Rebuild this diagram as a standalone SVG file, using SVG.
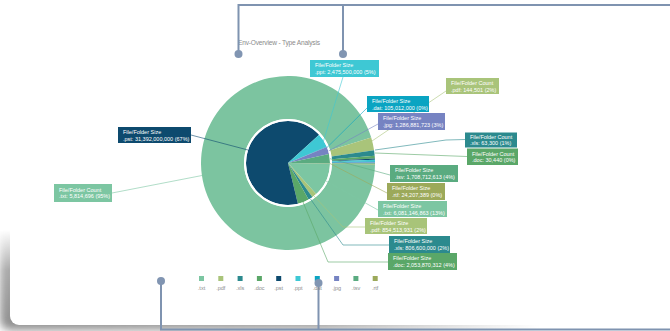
<svg xmlns="http://www.w3.org/2000/svg" width="670" height="331" viewBox="0 0 670 331">
<style>
.lb{font-family:"Liberation Sans",Arial,sans-serif;font-size:5.5px;fill:#ffffff}
.lg{font-family:"Liberation Sans",Arial,sans-serif;font-size:5.5px;fill:#8c8c8c;text-anchor:middle}
.ttl{font-family:"Liberation Sans",Arial,sans-serif;font-size:6.6px;fill:#8a8a8a}
.ld{fill:none;stroke-width:0.6}
.co{fill:none;stroke:#7f93b0;stroke-width:2}
.dot{fill:#8195b2}
</style>
<defs>
<filter id="blur" x="-10%" y="-10%" width="120%" height="120%"><feGaussianBlur stdDeviation="4.5"/></filter>
<radialGradient id="shg" cx="0" cy="1" r="1">
<stop offset="0" stop-color="#fff" stop-opacity="1"/>
<stop offset="0.6" stop-color="#fff" stop-opacity="0.75"/>
<stop offset="1" stop-color="#fff" stop-opacity="0"/>
</radialGradient>
<mask id="shm"><rect x="0" y="230" width="540" height="101" fill="url(#shg)"/></mask>
</defs>
<rect x="0" y="0" width="670" height="331" fill="#ffffff"/>
<g id="card">
<g mask="url(#shm)"><rect x="0" y="60" width="720" height="270" rx="10" fill="#8c8c8c" filter="url(#blur)"/></g>
<rect x="10" y="-20" width="720" height="345" rx="9" fill="#ffffff"/>
</g>
<text class="ttl" x="238" y="45" textLength="82">Env-Overview - Type Analysis</text>

<g id="outer-ring">
<path d="M374.99,164.52 A87,87 0 1 1 371.20,137.56 L330.08,150.13 A44,44 0 1 0 331.99,163.77 Z" fill="#7cc4a0"/>
<path d="M371.20,137.56 A87,87 0 0 1 374.04,150.14 L331.52,156.50 A44,44 0 0 0 330.08,150.13 Z" fill="#a9c47a"/>
<path d="M374.04,150.14 A87,87 0 0 1 374.69,155.72 L331.85,159.32 A44,44 0 0 0 331.52,156.50 Z" fill="#2c8a8e"/>
<path d="M374.69,155.72 A87,87 0 0 1 374.88,158.45 L331.94,160.70 A44,44 0 0 0 331.85,159.32 Z" fill="#5aa768"/>
<path d="M374.88,158.45 A87,87 0 0 1 374.94,159.66 L331.97,161.31 A44,44 0 0 0 331.94,160.70 Z" fill="#0d4a6e"/>
<path d="M374.94,159.66 A87,87 0 0 1 374.98,161.18 L331.99,162.08 A44,44 0 0 0 331.97,161.31 Z" fill="#3ec8d4"/>
<path d="M374.98,161.18 A87,87 0 0 1 375.00,162.39 L332.00,162.69 A44,44 0 0 0 331.99,162.08 Z" fill="#0aa4c2"/>
<path d="M375.00,162.39 A87,87 0 0 1 375.00,163.15 L332.00,163.08 A44,44 0 0 0 332.00,162.69 Z" fill="#7683c2"/>
<path d="M375.00,163.15 A87,87 0 0 1 374.99,164.06 L332.00,163.54 A44,44 0 0 0 332.00,163.08 Z" fill="#5aab80"/>
<path d="M374.99,164.06 A87,87 0 0 1 374.99,164.52 L331.99,163.77 A44,44 0 0 0 332.00,163.54 Z" fill="#9ca95a"/>
</g>

<g id="inner-pie">
<path d="M288,163 L330.00,163.73 A42,42 0 0 1 316.22,194.11 Z" fill="#7cc6a2"/>
<path d="M288,163 L316.22,194.11 A42,42 0 0 1 312.48,197.13 Z" fill="#a8c479"/>
<path d="M288,163 L312.48,197.13 A42,42 0 0 1 308.64,199.58 Z" fill="#2c8a8e"/>
<path d="M288,163 L308.64,199.58 A42,42 0 0 1 297.90,203.82 Z" fill="#5aa768"/>
<path d="M288,163 L297.90,203.82 A42,42 0 1 1 319.15,134.83 Z" fill="#0d4a6e"/>
<path d="M288,163 L319.15,134.83 A42,42 0 0 1 326.64,146.54 Z" fill="#3ec8d4"/>
<path d="M288,163 L326.64,146.54 A42,42 0 0 1 326.87,147.08 Z" fill="#0aa4c2"/>
<path d="M288,163 L326.87,147.08 A42,42 0 0 1 329.03,154.00 Z" fill="#7683c2"/>
<path d="M288,163 L329.03,154.00 A42,42 0 0 1 330.00,163.57 Z" fill="#5aab80"/>
<path d="M288,163 L330.00,163.57 A42,42 0 0 1 330.00,163.73 Z" fill="#9ca95a"/>
<circle cx="288" cy="163" r="43" fill="none" stroke="#ffffff" stroke-width="2"/>
</g>

<g id="connectors">
<path class="ld" stroke="#3ec8d4" d="M343,77 L323.5,141"/>
<path class="ld" stroke="#0aa4c2" d="M367,108 L327,147.5"/>
<path class="ld" stroke="#7683c2" d="M378,124 L328.5,151"/>
<path class="ld" stroke="#a9c47a" d="M446,91 L372,141"/>
<path class="ld" stroke="#2c8a8e" d="M465,139.5 L446,140 L375,150"/>
<path class="ld" stroke="#5aa768" d="M467,156.5 L375,153"/>
<path class="ld" stroke="#5aab80" d="M390,175 L330,158.7"/>
<path class="ld" stroke="#9ca95a" d="M387,193 L330,163.5"/>
<path class="ld" stroke="#7cc6a2" d="M378,210 L326,181"/>
<path class="ld" stroke="#a8c479" d="M366,227 L343,227 L314,196"/>
<path class="ld" stroke="#2c8a8e" d="M389,245 L343,245 L310.5,199"/>
<path class="ld" stroke="#5aa768" d="M388,262 L328,262 L303,202"/>
<path class="ld" stroke="#0d4a6e" d="M191,135 L248,150"/>
<path class="ld" stroke="#7cc6a2" d="M112,193 L202,175.5"/>
<path class="co" d="M238.5,54 L238.5,5 L670,5"/>
<path class="co" d="M343,54 L343,5"/>
<path class="co" d="M161,281 L161,329.5 L670,329.5"/>
<path class="co" d="M318.5,283 L318.5,329.5"/>
</g>

<g id="label-ppt"><rect x="310" y="60" width="69" height="17" fill="#3ec8d4"/><text class="lb" x="315" y="67.3">File/Folder Size</text><text class="lb" x="315" y="74">.ppt: 2,475,500,000 (5%)</text></g>
<g id="label-dat"><rect x="367" y="96" width="62" height="16" fill="#0aa4c2"/><text class="lb" x="372" y="103">File/Folder Size</text><text class="lb" x="372" y="109.5">.dat: 105,012,000 (0%)</text></g>
<g id="label-jpg"><rect x="378" y="113" width="67" height="17" fill="#7683c2"/><text class="lb" x="383" y="120.3">File/Folder Size</text><text class="lb" x="383" y="127">.jpg: 1,286,881,723 (3%)</text></g>
<g id="label-pdf-count"><rect x="446" y="78" width="53" height="16" fill="#a9c47a"/><text class="lb" x="451" y="85">File/Folder Count</text><text class="lb" x="451" y="91.5">.pdf: 144,501 (2%)</text></g>
<g id="label-xls-count"><rect x="465" y="132.5" width="52" height="15" fill="#2c8a8e"/><text class="lb" x="470" y="139">File/Folder Count</text><text class="lb" x="470" y="145.3">.xls: 63,300 (1%)</text></g>
<g id="label-doc-count"><rect x="467" y="148.5" width="51" height="16.5" fill="#5aa768"/><text class="lb" x="472" y="155.5">File/Folder Count</text><text class="lb" x="472" y="162">.doc: 30,440 (0%)</text></g>
<g id="label-tsv"><rect x="390" y="165" width="68" height="17" fill="#5aab80"/><text class="lb" x="395" y="172.3">File/Folder Size</text><text class="lb" x="395" y="179">.tsv: 1,708,712,613 (4%)</text></g>
<g id="label-rtf"><rect x="387" y="183" width="58" height="17" fill="#9ca95a"/><text class="lb" x="392" y="190.3">File/Folder Size</text><text class="lb" x="392" y="197">.rtf: 24,207,389 (0%)</text></g>
<g id="label-txt-size"><rect x="378" y="201" width="69" height="16" fill="#7cc6a2"/><text class="lb" x="383" y="208">File/Folder Size</text><text class="lb" x="383" y="214.5">.txt: 6,081,146,863 (13%)</text></g>
<g id="label-pdf-size"><rect x="365" y="218" width="62" height="16" fill="#a8c479"/><text class="lb" x="370" y="225">File/Folder Size</text><text class="lb" x="370" y="231.5">.pdf: 854,513,931 (2%)</text></g>
<g id="label-xls-size"><rect x="389" y="236" width="61" height="17" fill="#2c8a8e"/><text class="lb" x="394" y="243.3">File/Folder Size</text><text class="lb" x="394" y="250">.xls: 806,600,000 (2%)</text></g>
<g id="label-doc-size"><rect x="388" y="253" width="69" height="17" fill="#5aa768"/><text class="lb" x="393" y="260.3">File/Folder Size</text><text class="lb" x="393" y="267">.doc: 2,053,870,312 (4%)</text></g>
<g id="label-pst"><rect x="118" y="127" width="73" height="16" fill="#0d4a6e"/><text class="lb" x="123" y="134">File/Folder Size</text><text class="lb" x="123" y="140.5">.pst: 31,392,000,000 (67%)</text></g>
<g id="label-txt-count"><rect x="54" y="184" width="58" height="18" fill="#7cc6a2"/><text class="lb" x="59" y="191.5">File/Folder Count</text><text class="lb" x="59" y="198.3">.txt: 5,814,696 (95%)</text></g>

<g id="legend">
<rect x="199" y="276" width="5" height="5" fill="#7cc6a2"/><text class="lg" x="201.5" y="289.5">.txt</text>
<rect x="218.3" y="276" width="5" height="5" fill="#a9c47a"/><text class="lg" x="220.8" y="289.5">.pdf</text>
<rect x="237.6" y="276" width="5" height="5" fill="#2c8a8e"/><text class="lg" x="240.1" y="289.5">.xls</text>
<rect x="256.9" y="276" width="5" height="5" fill="#5aa768"/><text class="lg" x="259.4" y="289.5">.doc</text>
<rect x="276.2" y="276" width="5" height="5" fill="#0d4a6e"/><text class="lg" x="278.7" y="289.5">.pst</text>
<rect x="295.5" y="276" width="5" height="5" fill="#3ec8d4"/><text class="lg" x="298" y="289.5">.ppt</text>
<rect x="314.8" y="276" width="5" height="5" fill="#0aa4c2"/><text class="lg" x="317.3" y="289.5">.dat</text>
<rect x="334.1" y="276" width="5" height="5" fill="#7683c2"/><text class="lg" x="336.6" y="289.5">.jpg</text>
<rect x="353.4" y="276" width="5" height="5" fill="#5aab80"/><text class="lg" x="355.9" y="289.5">.tsv</text>
<rect x="372.7" y="276" width="5" height="5" fill="#9ca95a"/><text class="lg" x="375.2" y="289.5">.rtf</text>
</g>

<g id="callout-dots">
<circle class="dot" cx="238.5" cy="54" r="4"/>
<circle class="dot" cx="343" cy="54" r="4"/>
<circle class="dot" cx="161" cy="281" r="4"/>
<circle class="dot" cx="318.5" cy="283" r="4"/>
</g>
</svg>
